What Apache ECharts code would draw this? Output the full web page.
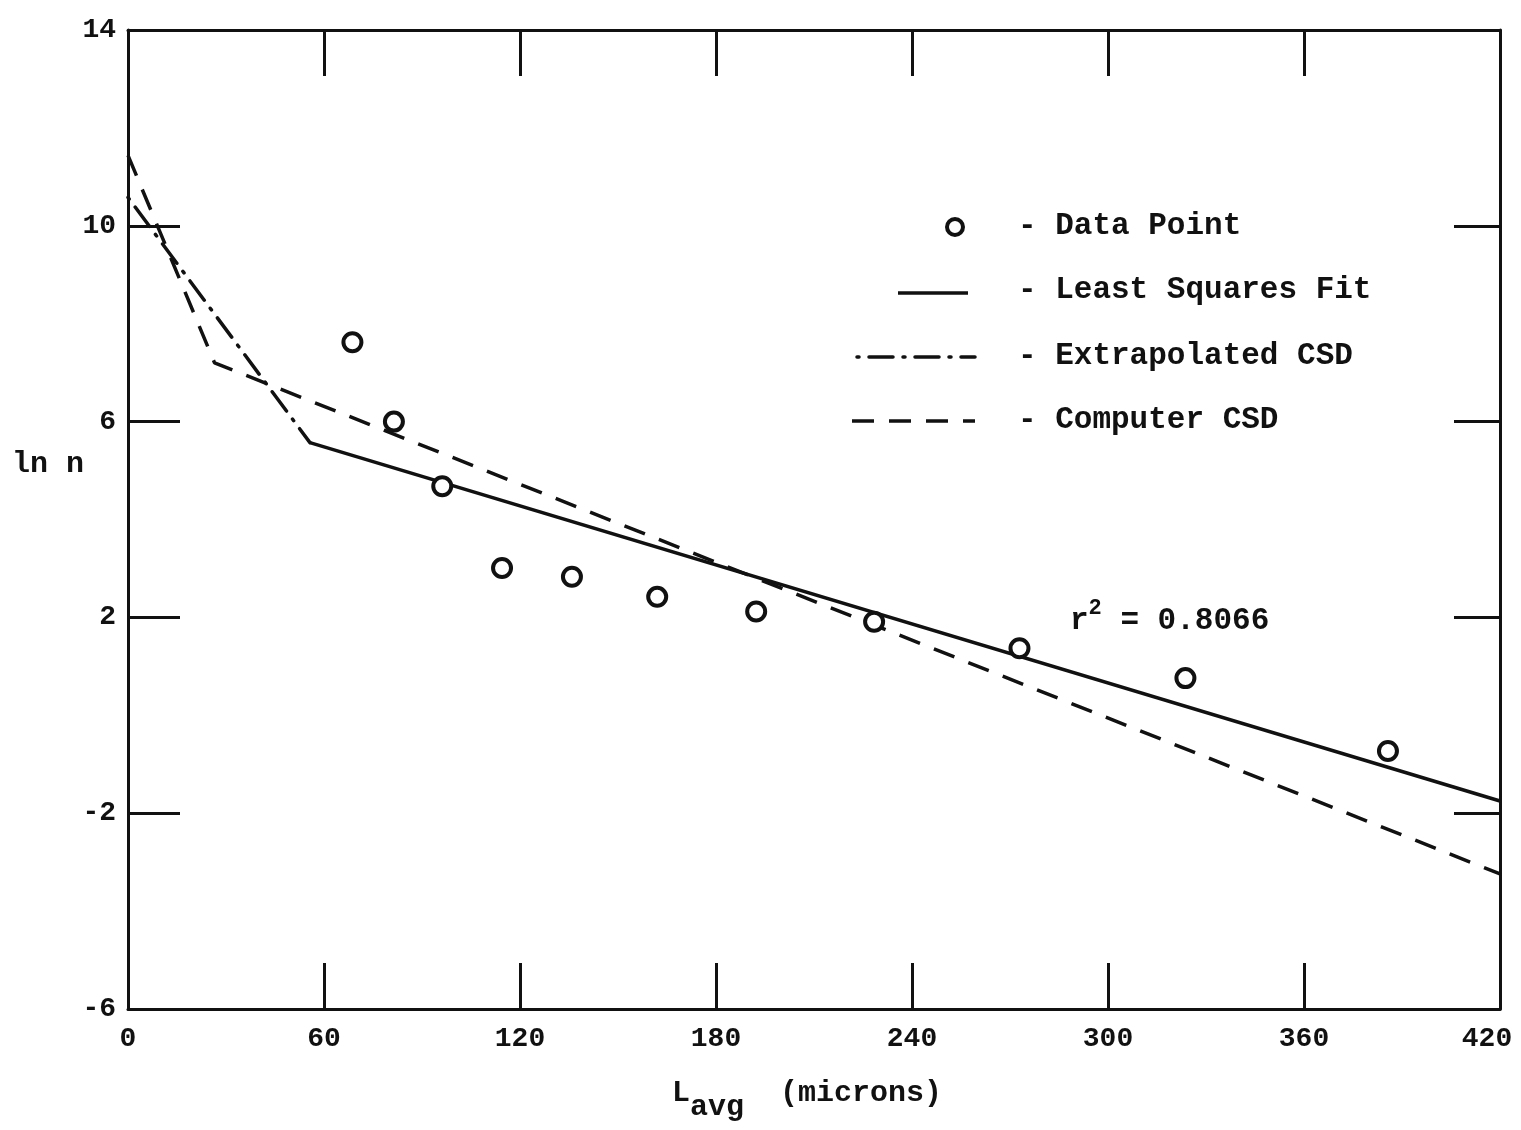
<!DOCTYPE html>
<html>
<head>
<meta charset="utf-8">
<script src="https://cdn.jsdelivr.net/npm/echarts@6/dist/echarts.min.js"></script>
<style>
  html, body {margin: 0; padding: 0; background: #fff;}
  #chart {width: 1521px; height: 1130px;}
</style>
</head>
<body>
<div id="chart"></div>
<script>
// measured crystal size distribution
const lengthsUm = [68.7, 81.4, 96.2, 114.5, 135.9, 162.0, 192.3, 228.4, 272.9, 323.7, 385.7];
const lnN = [7.62, 6.0, 4.68, 3.01, 2.83, 2.42, 2.12, 1.91, 1.37, 0.76, -0.73];

// least squares fit
const fitX = [55.7, 420];
const fitY = [5.57, -1.75];

// extrapolated CSD (small sizes)
const extrapX = [0, 55.7];
const extrapY = [10.58, 5.57];

// computer CSD
const computerX = [0, 26.5, 420];
const computerY = [11.44, 7.2, -3.24];

const rSquared = '0.8066';

const FONT = 'Liberation Mono';
const INK = '#111';
const pairs = (xs, ys) => xs.map((x, i) => [x, ys[i]]);

const dashDot = [2, 10, 24, 10];
const dashed = [22, 15];

const chart = echarts.init(document.getElementById('chart'));

const axisCommon = {
  type: 'value',
  axisLine: {show: true, onZero: false, lineStyle: {color: INK, width: 3}},
  axisTick: {show: true, inside: true, length: 46, lineStyle: {color: INK, width: 3}},
  splitLine: {show: false},
};

chart.setOption({
  backgroundColor: '#fff',
  animation: false,
  grid: {left: 128, right: 21, top: 30, bottom: 121, outerBoundsMode: 'none', containLabel: false},
  xAxis: [
    {
      ...axisCommon,
      min: 0, max: 420, interval: 60,
      position: 'bottom',
      axisLabel: {
        color: INK, fontFamily: FONT, fontWeight: 'bold', fontSize: 28, margin: 16,
        // last label sits a little left of the corner, as on the original
        formatter: v => (v === 420 ? '{e|' + v + '}' : String(v)),
        rich: {e: {fontFamily: FONT, fontWeight: 'bold', fontSize: 28, color: INK, padding: [0, 26, 0, 0]}}
      }
    },
    {
      ...axisCommon,
      min: 0, max: 420, interval: 60,
      position: 'top',
      axisLabel: {show: false}
    }
  ],
  yAxis: [
    {
      ...axisCommon,
      min: -6, max: 14, interval: 4,
      position: 'left',
      axisTick: {...axisCommon.axisTick, length: 52},
      axisLabel: {color: INK, fontFamily: FONT, fontWeight: 'bold', fontSize: 28, margin: 12}
    },
    {
      ...axisCommon,
      min: -6, max: 14, interval: 4,
      position: 'right',
      axisLabel: {show: false}
    }
  ],
  series: [
    {
      name: 'Least Squares Fit',
      type: 'line',
      data: pairs(fitX, fitY),
      symbol: 'none',
      lineStyle: {color: INK, width: 3.5}
    },
    {
      name: 'Extrapolated CSD',
      type: 'line',
      data: pairs(extrapX, extrapY),
      symbol: 'none',
      lineStyle: {color: INK, width: 3.5, type: dashDot, cap: 'round'}
    },
    {
      name: 'Computer CSD',
      type: 'line',
      data: pairs(computerX, computerY),
      symbol: 'none',
      lineStyle: {color: INK, width: 3.5, type: dashed}
    },
    {
      name: 'Data Point',
      type: 'scatter',
      data: pairs(lengthsUm, lnN),
      symbol: 'circle',
      symbolSize: 18,
      itemStyle: {color: '#fff', borderColor: INK, borderWidth: 4, opacity: 1},
      z: 5
    }
  ],
  graphic: [
    // legend
    {type: 'circle', shape: {cx: 955, cy: 227, r: 8}, style: {fill: '#fff', stroke: INK, lineWidth: 4}},
    {type: 'line', shape: {x1: 898, y1: 293, x2: 968, y2: 293}, style: {stroke: INK, lineWidth: 3.5}},
    {type: 'line', shape: {x1: 857, y1: 357, x2: 975, y2: 357}, style: {stroke: INK, lineWidth: 3.5, lineDash: dashDot, lineCap: 'round'}},
    {type: 'line', shape: {x1: 852, y1: 421, x2: 975, y2: 421}, style: {stroke: INK, lineWidth: 3.5, lineDash: dashed}},
    {type: 'text', left: 1018, top: 211, style: {text: '- Data Point', font: `bold 31px "${FONT}"`, fill: INK}},
    {type: 'text', left: 1018, top: 275, style: {text: '- Least Squares Fit', font: `bold 31px "${FONT}"`, fill: INK}},
    {type: 'text', left: 1018, top: 341, style: {text: '- Extrapolated CSD', font: `bold 31px "${FONT}"`, fill: INK}},
    {type: 'text', left: 1018, top: 405, style: {text: '- Computer CSD', font: `bold 31px "${FONT}"`, fill: INK}},
    // r squared
    {
      type: 'text', left: 1070, top: 597,
      style: {
        text: '{a|r}{s|2}{a| = ' + rSquared + '}',
        rich: {
          a: {fontFamily: FONT, fontWeight: 'bold', fontSize: 31, fill: INK, verticalAlign: 'bottom', lineHeight: 40},
          s: {fontFamily: FONT, fontWeight: 'bold', fontSize: 22, fill: INK, verticalAlign: 'top', lineHeight: 40, padding: [0, 0, 14, 0]}
        }
      }
    },
    // axis titles
    {type: 'text', left: 12, top: 449, style: {text: 'ln n', font: `bold 30px "${FONT}"`, fill: INK}},
    {
      type: 'text', left: 672, top: 1078,
      style: {
        text: '{a|L}{s|avg}{a|  (microns)}',
        rich: {
          a: {fontFamily: FONT, fontWeight: 'bold', fontSize: 30, fill: INK, verticalAlign: 'top', lineHeight: 40},
          s: {fontFamily: FONT, fontWeight: 'bold', fontSize: 30, fill: INK, verticalAlign: 'top', lineHeight: 40, padding: [14, 0, 0, 0]}
        }
      }
    }
  ]
});
</script>
</body>
</html>
